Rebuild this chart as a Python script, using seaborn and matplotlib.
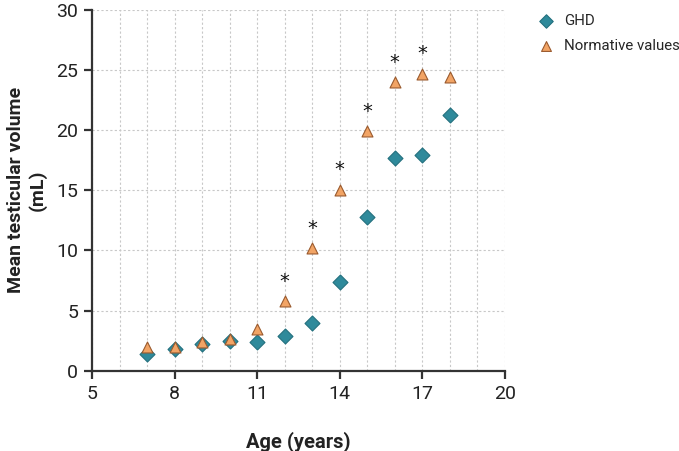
import matplotlib
matplotlib.use("Agg")
import matplotlib.pyplot as plt
import seaborn as sns
import pandas as pd
from matplotlib.ticker import MultipleLocator

ages = [7, 8, 9, 10, 11, 12, 13, 14, 15, 16, 17, 18]
ghd = [1.4, 1.8, 2.25, 2.45, 2.4, 2.9, 3.95, 7.4, 12.8, 17.7, 17.9, 21.3]
normative = [2.0, 2.0, 2.35, 2.6, 3.5, 5.8, 10.2, 15.05, 19.9, 24.0, 24.7, 24.45]
sig_ages = [12, 13, 14, 15, 16, 17]
x_ticks = [5, 8, 11, 14, 17, 20]
y_ticks = [0, 5, 10, 15, 20, 25, 30]

sns.set_theme(style="white")
plt.rcParams['font.family'] = ['Roboto', 'DejaVu Sans']

df = pd.DataFrame({
    "Age": ages * 2,
    "Volume": ghd + normative,
    "Group": ["GHD"] * len(ages) + ["Normative values"] * len(ages),
})

fig = plt.figure(figsize=(6.79, 4.51), dpi=100)
ax = fig.add_axes([0.1355, 0.178, 0.608, 0.80])

teal = "#2f8a9b"
teal_edge = "#23707e"
orange = "#f2a465"
orange_edge = "#9a5a2e"

sns.scatterplot(data=df[df.Group == "GHD"], x="Age", y="Volume", marker="D",
                color=teal, edgecolor=teal_edge, linewidth=0.8, s=58, ax=ax,
                zorder=3, label="GHD")
sns.scatterplot(data=df[df.Group == "Normative values"], x="Age", y="Volume", marker="^",
                color=orange, edgecolor=orange_edge, linewidth=0.8, s=62, ax=ax,
                zorder=4, label="Normative values")

for a in sig_ages:
    v = normative[ages.index(a)]
    ax.text(a, v + 0.85, "*", ha="center", va="bottom", fontsize=14, color="#111111",
            family="DejaVu Sans")

ax.set_xlim(5, 20)
ax.set_ylim(0, 30)
ax.set_xticks(x_ticks)
ax.set_yticks(y_ticks)
ax.xaxis.set_minor_locator(MultipleLocator(1))
ax.grid(True, which="major", axis="y", linestyle=(0, (2, 2)), color="#c8c8c8", linewidth=0.8)
ax.grid(True, which="both", axis="x", linestyle=(0, (2, 2)), color="#c8c8c8", linewidth=0.8)
ax.set_axisbelow(True)

for s in ["top", "right"]:
    ax.spines[s].set_visible(False)
for s in ["left", "bottom"]:
    ax.spines[s].set_color("#333333")
    ax.spines[s].set_linewidth(1.6)

ax.tick_params(axis="both", which="major", direction="out", length=6, width=1.6,
               color="#333333", labelsize=14, labelcolor="#222222", pad=4,
               bottom=True, left=True)
ax.tick_params(axis="x", which="minor", length=0)

ax.set_xlabel("Age (years)", fontsize=14.5, fontweight="bold", labelpad=21, color="#222222")
ax.set_ylabel("Mean testicular volume\n(mL)", fontsize=14, fontweight="bold",
              labelpad=7, color="#222222")

leg = ax.legend(loc="upper left", bbox_to_anchor=(1.03, 1.025), frameon=False,
                fontsize=10.8, handletextpad=0.2, markerscale=0.9, labelspacing=0.7)

fig.savefig("out.png", dpi=100)
